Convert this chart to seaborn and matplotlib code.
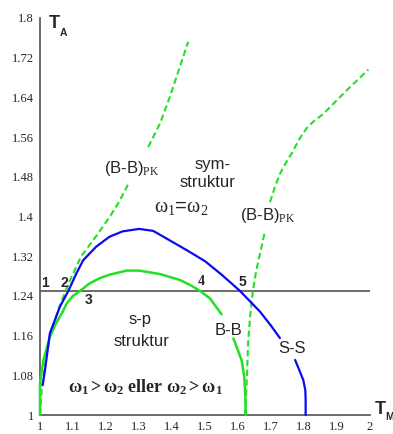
import matplotlib
matplotlib.use("Agg")
import matplotlib.pyplot as plt
import pandas as pd
import seaborn as sns

sns.set_style("white")
plt.rcParams["font.family"] = ["Liberation Sans", "DejaVu Sans"]
plt.rcParams["mathtext.fontset"] = "custom"
plt.rcParams["mathtext.rm"] = "Liberation Serif"
plt.rcParams["mathtext.it"] = "Liberation Serif:italic"
plt.rcParams["mathtext.bf"] = "Liberation Serif:bold"
plt.rcParams["mathtext.default"] = "rm"

# ---- phase boundaries (T_M, T_A) ----
# S-S boundary (blue), two pieces around its label
ss_tm_a = [1.008, 1.015, 1.03, 1.045, 1.06, 1.086, 1.11, 1.131, 1.17, 1.21, 1.25,
           1.30, 1.343, 1.385, 1.445, 1.50, 1.55, 1.606, 1.667, 1.70, 1.727]
ss_ta_a = [1.06, 1.09, 1.165, 1.191, 1.218, 1.25, 1.285, 1.312, 1.339, 1.359, 1.370,
           1.375, 1.371, 1.355, 1.332, 1.31, 1.283, 1.25, 1.208, 1.18, 1.155]
ss_tm_b = [1.773, 1.786, 1.798, 1.804, 1.805, 1.805]
ss_ta_b = [1.111, 1.09, 1.07, 1.05, 1.03, 1.0]

# B-B boundary (solid green)
bb_tm_a = [1.0, 1.0, 1.01, 1.03, 1.045, 1.06, 1.071, 1.081, 1.10, 1.121, 1.15, 1.182,
           1.212, 1.263, 1.30, 1.364, 1.424, 1.455, 1.485, 1.515, 1.55]
bb_ta_a = [1.0, 1.064, 1.11, 1.157, 1.18, 1.198, 1.211, 1.225, 1.24, 1.25, 1.265, 1.276,
           1.283, 1.291, 1.291, 1.284, 1.272, 1.262, 1.25, 1.235, 1.203]
bb_tm_b = [1.586, 1.60, 1.611, 1.619, 1.622, 1.624]
bb_ta_b = [1.154, 1.13, 1.11, 1.077, 1.04, 1.0]

# (B-B)_PK boundaries (dashed green), left branch
pkl_tm_a = [1.0, 1.005, 1.015, 1.03, 1.06, 1.09, 1.125, 1.172, 1.212, 1.24, 1.268]
pkl_ta_a = [1.0, 1.05, 1.10, 1.16, 1.22, 1.27, 1.32, 1.362, 1.40, 1.43, 1.466]
pkl_tm_b = [1.328, 1.364, 1.394, 1.424, 1.449]
pkl_ta_b = [1.54, 1.588, 1.642, 1.702, 1.752]

# right branch
pkr_tm_a = [1.621, 1.626, 1.631, 1.637, 1.645, 1.655, 1.665, 1.675, 1.682]
pkr_ta_a = [1.0, 1.06, 1.15, 1.20, 1.25, 1.29, 1.32, 1.35, 1.372]
pkr_tm_b = [1.697, 1.712, 1.727, 1.745, 1.765, 1.785, 1.808, 1.828, 1.859, 1.929, 1.995]
pkr_ta_b = [1.429, 1.46, 1.486, 1.508, 1.53, 1.555, 1.578, 1.591, 1.607, 1.654, 1.696]

level_ta = 1.25

x_ticks = [1.0, 1.1, 1.2, 1.3, 1.4, 1.5, 1.6, 1.7, 1.8, 1.9, 2.0]
x_labels = ["1", "1.1", "1.2", "1.3", "1.4", "1.5", "1.6", "1.7", "1.8", "1.9", "2"]
y_ticks = [1.0, 1.08, 1.16, 1.24, 1.32, 1.40, 1.48, 1.56, 1.64, 1.72, 1.80]
y_labels = ["1", "1.08", "1.16", "1.24", "1.32", "1.4", "1.48", "1.56", "1.64", "1.72", "1.8"]


def curve_frame(name, pieces):
    rows = []
    for i, (xs, ys) in enumerate(pieces):
        for x, y in zip(xs, ys):
            rows.append((name, i, x, y))
    return rows


rows = []
rows += curve_frame("SS", [(ss_tm_a, ss_ta_a), (ss_tm_b, ss_ta_b)])
rows += curve_frame("BB", [(bb_tm_a, bb_ta_a), (bb_tm_b, bb_ta_b)])
rows += curve_frame("PKL", [(pkl_tm_a, pkl_ta_a), (pkl_tm_b, pkl_ta_b)])
rows += curve_frame("PKR", [(pkr_tm_a, pkr_ta_a), (pkr_tm_b, pkr_ta_b)])
df = pd.DataFrame(rows, columns=["curve", "seg", "TM", "TA"])

W, H = 393, 434
fig = plt.figure(figsize=(W / 100, H / 100), dpi=100)
ax = fig.add_axes([40 / W, 1 - 415 / H, 330 / W, 397 / H])

green = "#22e022"
blue = "#0a0af5"
dash = (0, (3, 1.7))

ax.hlines(level_ta, 1.0, 2.0, color="#444444", lw=1.1, zorder=1)

styles = {
    "PKL": dict(color=green, lw=1.5, ls=dash),
    "PKR": dict(color=green, lw=1.5, ls=dash),
    "BB": dict(color=green, lw=1.8, ls="-"),
    "SS": dict(color=blue, lw=1.6, ls="-"),
}
for name in ["PKL", "PKR", "BB", "SS"]:
    sns.lineplot(data=df[df.curve == name], x="TM", y="TA", units="seg",
                 estimator=None, sort=False, ax=ax, legend=False,
                 clip_on=False, zorder=3, **styles[name])

ax.set_xlim(1.0, 2.0)
ax.set_ylim(1.0, 1.8)
ax.set_xticks(x_ticks)
ax.set_xticklabels(x_labels)
ax.set_yticks(y_ticks)
ax.set_yticklabels(y_labels)
ax.set_xlabel("")
ax.set_ylabel("")
for side in ["top", "right"]:
    ax.spines[side].set_visible(False)
for side in ["left", "bottom"]:
    ax.spines[side].set_color("#606060")
    ax.spines[side].set_linewidth(1.3)
ax.tick_params(axis="both", direction="inout", length=7, width=1.0,
               color="#404040", labelsize=9, pad=1)
for lab in ax.get_xticklabels() + ax.get_yticklabels():
    lab.set_family("Liberation Serif")
ax.patch.set_alpha(0)

# region and curve labels
txt = dict(fontsize=12, ha="center", va="center")
ax.text(1.524, 1.504, "sym-", **txt)
ax.text(1.508, 1.468, "struktur", **txt)
ax.text(1.427, 1.418, r"$ω_1$=$ω_2$", fontsize=14.5, ha="center", va="center")
ax.text(1.278, 1.497, r"(B-B)$_{\mathrm{PK}}$", **txt)
ax.text(1.69, 1.402, r"(B-B)$_{\mathrm{PK}}$", **txt)
ax.text(1.303, 1.193, "s-p", **txt)
ax.text(1.309, 1.148, "struktur", **txt)
ax.text(1.570, 1.171, "B-B", **txt)
ax.text(1.763, 1.133, "S-S", **txt)
ax.text(1.32, 1.056, r"$\mathbf{ω_1>ω_2\ eller\ ω_2>ω_1}$",
        fontsize=13, ha="center", va="center")

num = dict(fontsize=10, weight="bold", ha="center", va="center")
ax.text(1.015, 1.2655, "1", **num)
ax.text(1.073, 1.266, "2", **num)
ax.text(1.146, 1.232, "3", **num)
ax.text(1.490, 1.269, "4", family="Liberation Serif", **num)
ax.text(1.614, 1.269, "5", **num)

# axis titles
fig.text(49 / W, 1 - 28.5 / H, "T", fontsize=13, weight="bold", va="baseline")
fig.text(60 / W, 1 - 35.5 / H, "A", fontsize=7.5, weight="bold", va="baseline")
fig.text(375 / W, 1 - 414 / H, "T", fontsize=13, weight="bold", va="baseline")
fig.text(385 / W, 1 - 419.5 / H, "M", fontsize=7.5, weight="bold", va="baseline")

fig.savefig("out.png", dpi=100, facecolor="white")
